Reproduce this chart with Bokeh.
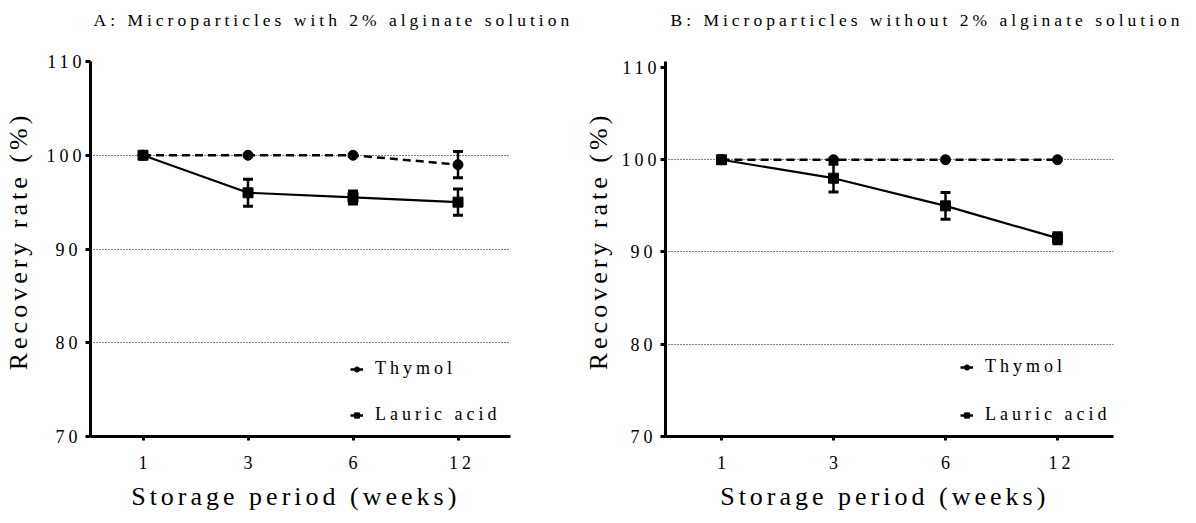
from bokeh.plotting import figure
from bokeh.models import (Range1d, FactorRange, FixedTicker, Whisker, TeeHead,
                          ColumnDataSource, Legend, LegendItem, InlineStyleSheet,
                          Title)
from bokeh.layouts import row
from bokeh.embed import file_html
from bokeh.resources import INLINE

weeks = ["1", "3", "6", "12"]

a_thymol = [100.0, 100.0, 100.0, 99.0]
a_thymol_err = [0.0, 0.0, 0.0, 1.4]
a_lauric = [100.0, 96.0, 95.5, 95.0]
a_lauric_err = [0.0, 1.45, 0.7, 1.4]

b_thymol = [100.0, 100.0, 100.0, 100.0]
b_thymol_err = [0.0, 0.0, 0.0, 0.0]
b_lauric = [100.0, 98.0, 95.0, 91.5]
b_lauric_err = [0.0, 1.5, 1.45, 0.6]

y_ticks = [70, 80, 90, 100, 110]
grid_ticks = [80, 90, 100]
x_title = "Storage period (weeks)"
y_title = "Recovery rate (%)"

FONT = "Liberation Serif"
# the reference's texts are letter-spaced
css = ":host { letter-spacing: 4px; }"


def make_panel(title, thymol, thymol_err, lauric, lauric_err, frame_w, y_top,
               border_left, border_right, title_offset, ylab_standoff,
               legend_x, legend_spacing):
    p = figure(frame_width=frame_w, frame_height=375, title=None,
               x_range=FactorRange(*weeks), y_range=Range1d(70, y_top),
               output_backend="svg", toolbar_location=None,
               min_border_left=border_left, min_border_right=border_right,
               min_border_top=54, min_border_bottom=78)
    p.stylesheets = [InlineStyleSheet(css=css)]
    p.outline_line_color = None
    p.background_fill_color = "white"
    p.border_fill_color = "white"

    # spacer (closest to the frame), then the panel title
    p.add_layout(Title(text=" ", text_font_size="2px", standoff=20), "above")
    p.add_layout(Title(text=title, text_font=FONT, text_font_size="17.5px",
                       text_font_style="normal", text_color="black",
                       align="left", offset=title_offset, standoff=15,
                       vertical_align="bottom"), "above")

    p.xgrid.visible = False
    p.ygrid.ticker = FixedTicker(ticks=grid_ticks)
    p.ygrid.grid_line_color = "black"
    p.ygrid.grid_line_width = 1
    p.ygrid.grid_line_dash = "1 2"

    for ax in (p.xaxis[0], p.yaxis[0]):
        ax.axis_line_width = 3
        ax.axis_line_color = "black"
        ax.major_tick_line_width = 3
        ax.major_tick_line_color = "black"
        ax.major_tick_in = 0
        ax.minor_tick_line_color = None
        ax.major_label_text_font = FONT
        ax.major_label_text_font_size = "18px"
        ax.major_label_text_color = "black"
        ax.axis_label_text_font = FONT
        ax.axis_label_text_font_size = "26px"
        ax.axis_label_text_font_style = "normal"
        ax.axis_label_text_color = "black"

    p.yaxis.ticker = FixedTicker(ticks=y_ticks)
    p.yaxis.major_tick_out = 5
    p.yaxis.major_label_standoff = 12
    p.xaxis.major_tick_out = 4
    p.xaxis.major_label_standoff = 15

    # trailing blanks balance the letter spacing so the visible text sits where
    # the reference has it
    p.xaxis.axis_label = x_title + " " * 15
    p.xaxis.axis_label_standoff = 10
    p.yaxis.axis_label = y_title + " " * 8
    p.yaxis.axis_label_standoff = ylab_standoff

    # error bars
    for vals, errs in ((thymol, thymol_err), (lauric, lauric_err)):
        xs = [w for w, e in zip(weeks, errs) if e > 0]
        up = [v + e for v, e in zip(vals, errs) if e > 0]
        lo = [v - e for v, e in zip(vals, errs) if e > 0]
        if xs:
            src = ColumnDataSource(dict(x=xs, upper=up, lower=lo))
            w = Whisker(base="x", upper="upper", lower="lower", source=src,
                        line_width=2.5, line_color="black",
                        upper_head=TeeHead(size=10, line_width=3, line_color="black"),
                        lower_head=TeeHead(size=10, line_width=3, line_color="black"))
            p.add_layout(w)

    p.line(weeks, lauric, line_color="black", line_width=2.2)
    p.scatter(weeks, lauric, marker="square", size=10, color="black")
    p.line(weeks, thymol, line_color="black", line_width=2.5, line_dash="8 5")
    p.scatter(weeks, thymol, marker="circle", size=10, color="black")

    # legend glyphs (nothing drawn in the data area)
    nan = float("nan")
    lg_l = p.line(weeks[:2], [nan, nan], line_color="black", line_width=2.5)
    lg_c = p.scatter(weeks[:1], [nan], marker="circle", size=9, color="black")
    lg_s = p.scatter(weeks[:1], [nan], marker="square", size=9, color="black")

    legend = Legend(items=[LegendItem(label="Thymol", renderers=[lg_l, lg_c]),
                           LegendItem(label="Lauric acid", renderers=[lg_l, lg_s])],
                    location=(legend_x, 11), glyph_width=13, glyph_height=20,
                    label_height=20, label_standoff=12, spacing=legend_spacing,
                    padding=0, margin=0, border_line_color=None,
                    background_fill_alpha=0, label_text_font=FONT,
                    label_text_font_size="18px", label_text_color="black")
    p.add_layout(legend)
    return p


pa = make_panel("A: Microparticles with 2% alginate solution",
                a_thymol, a_thymol_err, a_lauric, a_lauric_err,
                frame_w=420, y_top=110, border_left=84, border_right=70,
                title_offset=3, ylab_standoff=11, legend_x=260, legend_spacing=25)
pb = make_panel("B: Microparticles without 2% alginate solution",
                b_thymol, b_thymol_err, b_lauric, b_lauric_err,
                frame_w=448, y_top=110.65, border_left=78, border_right=80,
                title_offset=5, ylab_standoff=6, legend_x=295, legend_spacing=27)

layout = row(pa, pb)
open("out.html", "w").write(file_html(layout, INLINE))
